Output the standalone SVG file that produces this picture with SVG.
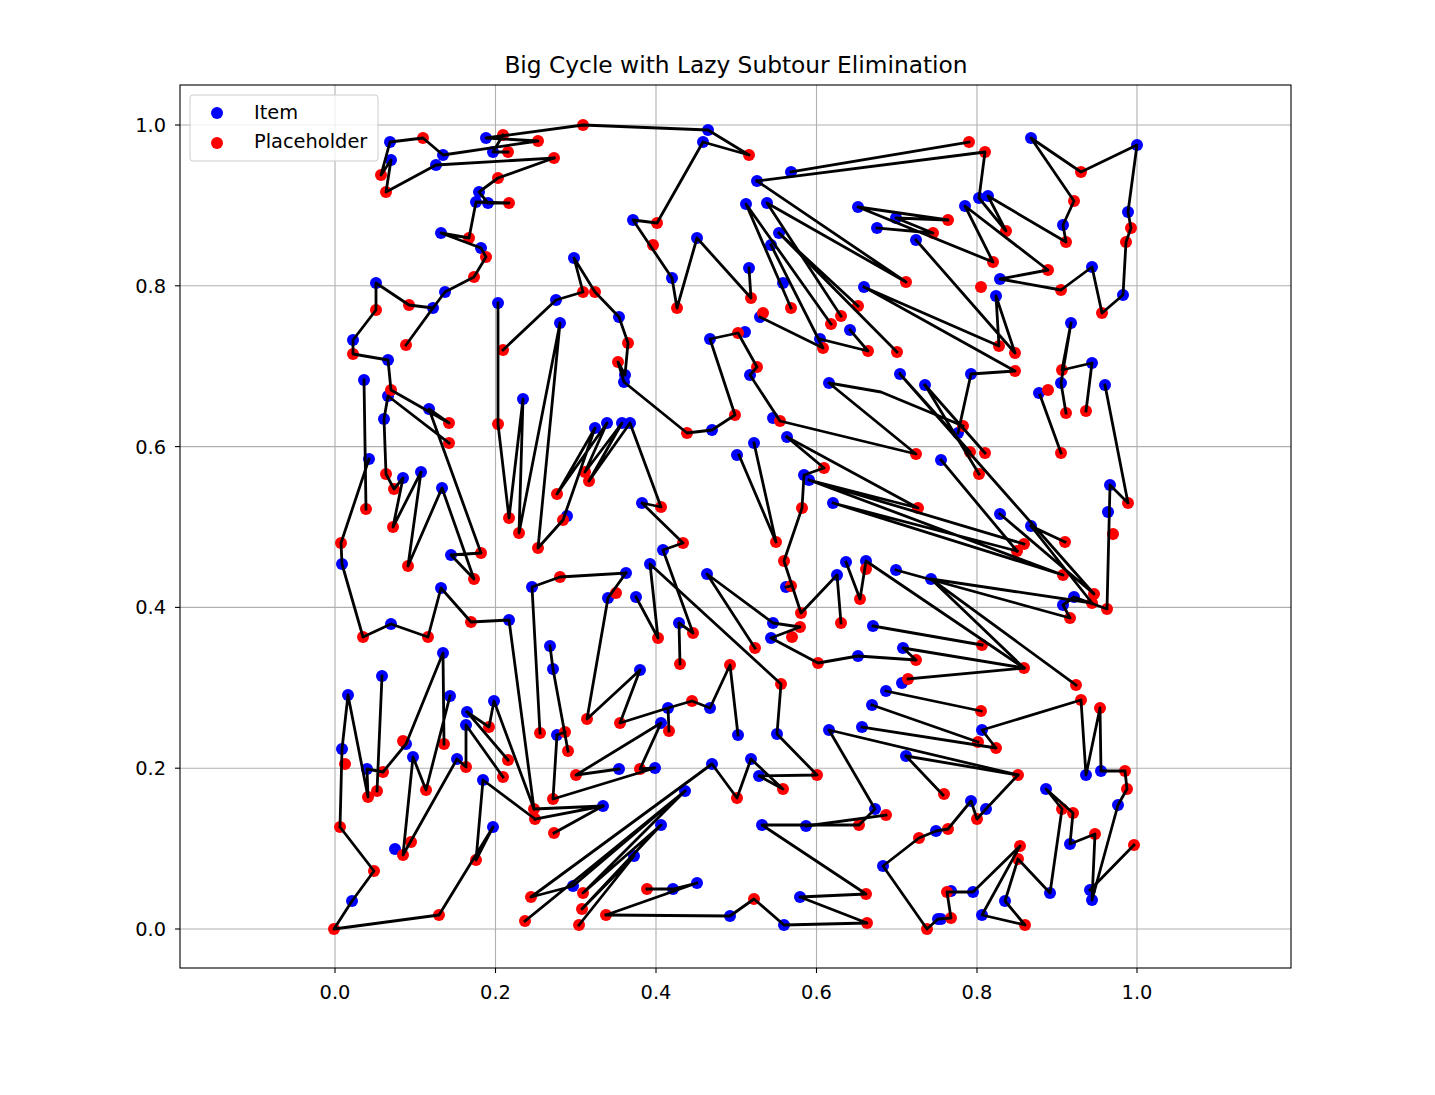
<svg xmlns="http://www.w3.org/2000/svg" width="1435" height="1095" viewBox="0 0 1435 1095">
<style>
text{font-family:"DejaVu Sans","Liberation Sans",sans-serif;fill:#000}
.tk{font-size:19.4px}
.grid line{stroke:#b0b0b0;stroke-width:1.1}
.i{fill:#0000ff}
.p{fill:#ff0000}
.edges path{fill:none;stroke:#000;stroke-width:2.8;stroke-linejoin:round;stroke-linecap:square}
</style>
<rect width="1435" height="1095" fill="#fff"/>
<text x="736" y="73" font-size="23.3" text-anchor="middle">Big Cycle with Lazy Subtour Elimination</text>
<g class="grid">
<line x1="335" y1="85" x2="335" y2="968"/><line x1="495.5" y1="85" x2="495.5" y2="968"/><line x1="656" y1="85" x2="656" y2="968"/><line x1="816.5" y1="85" x2="816.5" y2="968"/><line x1="977" y1="85" x2="977" y2="968"/><line x1="1137" y1="85" x2="1137" y2="968"/>
<line x1="180" y1="929" x2="1291" y2="929"/><line x1="180" y1="768.2" x2="1291" y2="768.2"/><line x1="180" y1="607.4" x2="1291" y2="607.4"/><line x1="180" y1="446.6" x2="1291" y2="446.6"/><line x1="180" y1="285.8" x2="1291" y2="285.8"/><line x1="180" y1="125" x2="1291" y2="125"/>
</g>
<g id="points-item">
<circle class="i" r="6" cx="390" cy="142"/><circle class="i" r="6" cx="443" cy="155"/><circle class="i" r="6" cx="436" cy="165"/><circle class="i" r="6" cx="391" cy="160"/><circle class="i" r="6" cx="486" cy="138"/><circle class="i" r="6" cx="493" cy="152"/><circle class="i" r="6" cx="479" cy="192"/><circle class="i" r="6" cx="476" cy="202"/><circle class="i" r="6" cx="488" cy="203"/><circle class="i" r="6" cx="441" cy="233"/><circle class="i" r="6" cx="481" cy="248"/><circle class="i" r="6" cx="445" cy="292"/><circle class="i" r="6" cx="376" cy="283"/><circle class="i" r="6" cx="433" cy="308"/><circle class="i" r="6" cx="353" cy="340"/><circle class="i" r="6" cx="388" cy="360"/><circle class="i" r="6" cx="364" cy="380"/><circle class="i" r="6" cx="498" cy="303"/><circle class="i" r="6" cx="708" cy="130"/><circle class="i" r="6" cx="703" cy="142"/><circle class="i" r="6" cx="633" cy="220"/><circle class="i" r="6" cx="697" cy="238"/><circle class="i" r="6" cx="672" cy="278"/><circle class="i" r="6" cx="574" cy="258"/><circle class="i" r="6" cx="556" cy="300"/><circle class="i" r="6" cx="560" cy="323"/><circle class="i" r="6" cx="619" cy="317"/><circle class="i" r="6" cx="625" cy="375"/><circle class="i" r="6" cx="624" cy="382"/><circle class="i" r="6" cx="710" cy="339"/><circle class="i" r="6" cx="745" cy="332"/>
<circle class="i" r="6" cx="388" cy="396"/><circle class="i" r="6" cx="429" cy="409"/><circle class="i" r="6" cx="384" cy="419"/><circle class="i" r="6" cx="369" cy="459"/><circle class="i" r="6" cx="403" cy="478"/><circle class="i" r="6" cx="421" cy="472"/><circle class="i" r="6" cx="442" cy="488"/><circle class="i" r="6" cx="342" cy="564"/><circle class="i" r="6" cx="451" cy="555"/><circle class="i" r="6" cx="441" cy="588"/><circle class="i" r="6" cx="509" cy="620"/><circle class="i" r="6" cx="391" cy="624"/><circle class="i" r="6" cx="443" cy="653"/><circle class="i" r="6" cx="523" cy="399"/><circle class="i" r="6" cx="532" cy="587"/>
<circle class="i" r="6" cx="712" cy="430"/><circle class="i" r="6" cx="737" cy="455"/><circle class="i" r="6" cx="595" cy="428"/><circle class="i" r="6" cx="607" cy="423"/><circle class="i" r="6" cx="622" cy="423"/><circle class="i" r="6" cx="630" cy="423"/><circle class="i" r="6" cx="567" cy="516"/><circle class="i" r="6" cx="642" cy="503"/><circle class="i" r="6" cx="663" cy="550"/><circle class="i" r="6" cx="650" cy="564"/><circle class="i" r="6" cx="707" cy="574"/><circle class="i" r="6" cx="626" cy="573"/><circle class="i" r="6" cx="608" cy="598"/><circle class="i" r="6" cx="636" cy="597"/><circle class="i" r="6" cx="679" cy="623"/><circle class="i" r="6" cx="550" cy="646"/>
<circle class="i" r="6" cx="791" cy="172"/><circle class="i" r="6" cx="757" cy="181"/><circle class="i" r="6" cx="746" cy="204"/><circle class="i" r="6" cx="767" cy="203"/><circle class="i" r="6" cx="779" cy="233"/><circle class="i" r="6" cx="771" cy="245"/><circle class="i" r="6" cx="749" cy="268"/><circle class="i" r="6" cx="783" cy="283"/><circle class="i" r="6" cx="760" cy="317"/><circle class="i" r="6" cx="750" cy="375"/><circle class="i" r="6" cx="820" cy="339"/><circle class="i" r="6" cx="850" cy="330"/><circle class="i" r="6" cx="864" cy="287"/><circle class="i" r="6" cx="858" cy="207"/><circle class="i" r="6" cx="896" cy="218"/><circle class="i" r="6" cx="877" cy="228"/><circle class="i" r="6" cx="916" cy="240"/><circle class="i" r="6" cx="829" cy="383"/><circle class="i" r="6" cx="900" cy="374"/><circle class="i" r="6" cx="925" cy="385"/>
<circle class="i" r="6" cx="1031" cy="138"/><circle class="i" r="6" cx="1137" cy="145"/><circle class="i" r="6" cx="1063" cy="225"/><circle class="i" r="6" cx="979" cy="198"/><circle class="i" r="6" cx="988" cy="196"/><circle class="i" r="6" cx="965" cy="206"/><circle class="i" r="6" cx="1000" cy="279"/><circle class="i" r="6" cx="1092" cy="267"/><circle class="i" r="6" cx="1123" cy="295"/><circle class="i" r="6" cx="1128" cy="212"/><circle class="i" r="6" cx="996" cy="296"/><circle class="i" r="6" cx="971" cy="374"/><circle class="i" r="6" cx="1071" cy="323"/><circle class="i" r="6" cx="1092" cy="363"/><circle class="i" r="6" cx="1061" cy="383"/><circle class="i" r="6" cx="1105" cy="385"/><circle class="i" r="6" cx="1039" cy="393"/>
<circle class="i" r="6" cx="773" cy="418"/><circle class="i" r="6" cx="787" cy="437"/><circle class="i" r="6" cx="754" cy="443"/><circle class="i" r="6" cx="941" cy="460"/><circle class="i" r="6" cx="804" cy="475"/><circle class="i" r="6" cx="809" cy="480"/><circle class="i" r="6" cx="833" cy="503"/><circle class="i" r="6" cx="846" cy="562"/><circle class="i" r="6" cx="866" cy="561"/><circle class="i" r="6" cx="837" cy="575"/><circle class="i" r="6" cx="896" cy="570"/><circle class="i" r="6" cx="931" cy="579"/><circle class="i" r="6" cx="786" cy="587"/><circle class="i" r="6" cx="773" cy="623"/><circle class="i" r="6" cx="771" cy="638"/><circle class="i" r="6" cx="873" cy="626"/><circle class="i" r="6" cx="903" cy="648"/><circle class="i" r="6" cx="858" cy="656"/>
<circle class="i" r="6" cx="958" cy="433"/><circle class="i" r="6" cx="1110" cy="485"/><circle class="i" r="6" cx="1108" cy="512"/><circle class="i" r="6" cx="1000" cy="514"/><circle class="i" r="6" cx="1031" cy="526"/><circle class="i" r="6" cx="1074" cy="597"/><circle class="i" r="6" cx="1063" cy="605"/>
<circle class="i" r="6" cx="982" cy="730"/><circle class="i" r="6" cx="1086" cy="775"/><circle class="i" r="6" cx="1101" cy="771"/><circle class="i" r="6" cx="1118" cy="805"/><circle class="i" r="6" cx="971" cy="801"/><circle class="i" r="6" cx="986" cy="809"/><circle class="i" r="6" cx="1046" cy="789"/><circle class="i" r="6" cx="1070" cy="844"/><circle class="i" r="6" cx="1050" cy="893"/><circle class="i" r="6" cx="1090" cy="890"/><circle class="i" r="6" cx="1092" cy="900"/><circle class="i" r="6" cx="951" cy="891"/><circle class="i" r="6" cx="973" cy="892"/><circle class="i" r="6" cx="1005" cy="901"/><circle class="i" r="6" cx="982" cy="915"/><circle class="i" r="6" cx="941" cy="919"/>
<circle class="i" r="6" cx="738" cy="735"/><circle class="i" r="6" cx="777" cy="734"/><circle class="i" r="6" cx="751" cy="759"/><circle class="i" r="6" cx="759" cy="776"/><circle class="i" r="6" cx="829" cy="730"/><circle class="i" r="6" cx="862" cy="727"/><circle class="i" r="6" cx="886" cy="691"/><circle class="i" r="6" cx="902" cy="683"/><circle class="i" r="6" cx="872" cy="705"/><circle class="i" r="6" cx="906" cy="756"/><circle class="i" r="6" cx="875" cy="809"/><circle class="i" r="6" cx="762" cy="825"/><circle class="i" r="6" cx="806" cy="826"/><circle class="i" r="6" cx="936" cy="831"/><circle class="i" r="6" cx="883" cy="866"/><circle class="i" r="6" cx="800" cy="897"/><circle class="i" r="6" cx="784" cy="925"/><circle class="i" r="6" cx="938" cy="919"/>
<circle class="i" r="6" cx="553" cy="669"/><circle class="i" r="6" cx="640" cy="670"/><circle class="i" r="6" cx="668" cy="708"/><circle class="i" r="6" cx="710" cy="708"/><circle class="i" r="6" cx="661" cy="723"/><circle class="i" r="6" cx="557" cy="735"/><circle class="i" r="6" cx="619" cy="769"/><circle class="i" r="6" cx="655" cy="768"/><circle class="i" r="6" cx="712" cy="764"/><circle class="i" r="6" cx="603" cy="806"/><circle class="i" r="6" cx="685" cy="791"/><circle class="i" r="6" cx="661" cy="825"/><circle class="i" r="6" cx="634" cy="856"/><circle class="i" r="6" cx="573" cy="886"/><circle class="i" r="6" cx="673" cy="889"/><circle class="i" r="6" cx="697" cy="883"/><circle class="i" r="6" cx="730" cy="916"/>
<circle class="i" r="6" cx="382" cy="676"/><circle class="i" r="6" cx="348" cy="695"/><circle class="i" r="6" cx="342" cy="749"/><circle class="i" r="6" cx="367" cy="769"/><circle class="i" r="6" cx="406" cy="744"/><circle class="i" r="6" cx="450" cy="696"/><circle class="i" r="6" cx="413" cy="757"/><circle class="i" r="6" cx="457" cy="759"/><circle class="i" r="6" cx="467" cy="712"/><circle class="i" r="6" cx="466" cy="725"/><circle class="i" r="6" cx="494" cy="701"/><circle class="i" r="6" cx="483" cy="780"/><circle class="i" r="6" cx="493" cy="827"/><circle class="i" r="6" cx="395" cy="849"/><circle class="i" r="6" cx="352" cy="901"/>
</g>
<g id="points-placeholder">
<circle class="p" r="6" cx="423" cy="138"/><circle class="p" r="6" cx="381" cy="175"/><circle class="p" r="6" cx="386" cy="192"/><circle class="p" r="6" cx="503" cy="135"/><circle class="p" r="6" cx="508" cy="152"/><circle class="p" r="6" cx="538" cy="141"/><circle class="p" r="6" cx="554" cy="158"/><circle class="p" r="6" cx="583" cy="125"/><circle class="p" r="6" cx="498" cy="178"/><circle class="p" r="6" cx="509" cy="203"/><circle class="p" r="6" cx="469" cy="238"/><circle class="p" r="6" cx="486" cy="257"/><circle class="p" r="6" cx="474" cy="277"/><circle class="p" r="6" cx="409" cy="305"/><circle class="p" r="6" cx="406" cy="345"/><circle class="p" r="6" cx="376" cy="310"/><circle class="p" r="6" cx="353" cy="354"/><circle class="p" r="6" cx="391" cy="390"/><circle class="p" r="6" cx="503" cy="350"/><circle class="p" r="6" cx="749" cy="155"/><circle class="p" r="6" cx="657" cy="223"/><circle class="p" r="6" cx="653" cy="245"/><circle class="p" r="6" cx="677" cy="308"/><circle class="p" r="6" cx="583" cy="292"/><circle class="p" r="6" cx="595" cy="292"/><circle class="p" r="6" cx="628" cy="343"/><circle class="p" r="6" cx="618" cy="362"/><circle class="p" r="6" cx="738" cy="333"/>
<circle class="p" r="6" cx="449" cy="423"/><circle class="p" r="6" cx="449" cy="443"/><circle class="p" r="6" cx="386" cy="474"/><circle class="p" r="6" cx="394" cy="489"/><circle class="p" r="6" cx="366" cy="509"/><circle class="p" r="6" cx="393" cy="527"/><circle class="p" r="6" cx="341" cy="543"/><circle class="p" r="6" cx="408" cy="566"/><circle class="p" r="6" cx="481" cy="553"/><circle class="p" r="6" cx="474" cy="579"/><circle class="p" r="6" cx="471" cy="622"/><circle class="p" r="6" cx="363" cy="637"/><circle class="p" r="6" cx="428" cy="637"/><circle class="p" r="6" cx="498" cy="424"/><circle class="p" r="6" cx="509" cy="518"/><circle class="p" r="6" cx="519" cy="533"/>
<circle class="p" r="6" cx="687" cy="433"/><circle class="p" r="6" cx="735" cy="415"/><circle class="p" r="6" cx="557" cy="494"/><circle class="p" r="6" cx="585" cy="472"/><circle class="p" r="6" cx="589" cy="481"/><circle class="p" r="6" cx="563" cy="520"/><circle class="p" r="6" cx="538" cy="548"/><circle class="p" r="6" cx="661" cy="507"/><circle class="p" r="6" cx="683" cy="543"/><circle class="p" r="6" cx="560" cy="577"/><circle class="p" r="6" cx="616" cy="593"/><circle class="p" r="6" cx="693" cy="633"/><circle class="p" r="6" cx="658" cy="638"/><circle class="p" r="6" cx="680" cy="664"/><circle class="p" r="6" cx="730" cy="665"/>
<circle class="p" r="6" cx="751" cy="298"/><circle class="p" r="6" cx="791" cy="308"/><circle class="p" r="6" cx="763" cy="313"/><circle class="p" r="6" cx="757" cy="367"/><circle class="p" r="6" cx="831" cy="324"/><circle class="p" r="6" cx="841" cy="316"/><circle class="p" r="6" cx="858" cy="306"/><circle class="p" r="6" cx="823" cy="348"/><circle class="p" r="6" cx="868" cy="351"/><circle class="p" r="6" cx="897" cy="352"/><circle class="p" r="6" cx="906" cy="282"/><circle class="p" r="6" cx="933" cy="233"/><circle class="p" r="6" cx="948" cy="220"/>
<circle class="p" r="6" cx="969" cy="142"/><circle class="p" r="6" cx="985" cy="152"/><circle class="p" r="6" cx="1081" cy="172"/><circle class="p" r="6" cx="1074" cy="201"/><circle class="p" r="6" cx="1066" cy="242"/><circle class="p" r="6" cx="1006" cy="231"/><circle class="p" r="6" cx="993" cy="262"/><circle class="p" r="6" cx="981" cy="287"/><circle class="p" r="6" cx="1048" cy="270"/><circle class="p" r="6" cx="1061" cy="290"/><circle class="p" r="6" cx="1102" cy="313"/><circle class="p" r="6" cx="1131" cy="228"/><circle class="p" r="6" cx="1126" cy="242"/><circle class="p" r="6" cx="999" cy="346"/><circle class="p" r="6" cx="1015" cy="353"/><circle class="p" r="6" cx="1015" cy="371"/><circle class="p" r="6" cx="1062" cy="370"/><circle class="p" r="6" cx="1048" cy="390"/>
<circle class="p" r="6" cx="1066" cy="413"/><circle class="p" r="6" cx="1086" cy="411"/><circle class="p" r="6" cx="1061" cy="453"/><circle class="p" r="6" cx="963" cy="426"/><circle class="p" r="6" cx="970" cy="452"/><circle class="p" r="6" cx="985" cy="453"/><circle class="p" r="6" cx="979" cy="474"/><circle class="p" r="6" cx="1128" cy="503"/><circle class="p" r="6" cx="1113" cy="534"/><circle class="p" r="6" cx="1065" cy="542"/><circle class="p" r="6" cx="1024" cy="544"/><circle class="p" r="6" cx="1017" cy="551"/><circle class="p" r="6" cx="1063" cy="575"/><circle class="p" r="6" cx="1094" cy="594"/><circle class="p" r="6" cx="1092" cy="603"/><circle class="p" r="6" cx="1107" cy="609"/><circle class="p" r="6" cx="1070" cy="618"/><circle class="p" r="6" cx="982" cy="645"/><circle class="p" r="6" cx="1024" cy="668"/>
<circle class="p" r="6" cx="780" cy="421"/><circle class="p" r="6" cx="916" cy="454"/><circle class="p" r="6" cx="824" cy="468"/><circle class="p" r="6" cx="918" cy="508"/><circle class="p" r="6" cx="802" cy="508"/><circle class="p" r="6" cx="776" cy="542"/><circle class="p" r="6" cx="784" cy="561"/><circle class="p" r="6" cx="866" cy="569"/><circle class="p" r="6" cx="860" cy="599"/><circle class="p" r="6" cx="841" cy="623"/><circle class="p" r="6" cx="791" cy="586"/><circle class="p" r="6" cx="801" cy="613"/><circle class="p" r="6" cx="800" cy="627"/><circle class="p" r="6" cx="792" cy="637"/><circle class="p" r="6" cx="755" cy="648"/><circle class="p" r="6" cx="916" cy="660"/><circle class="p" r="6" cx="818" cy="663"/>
<circle class="p" r="6" cx="1076" cy="685"/><circle class="p" r="6" cx="1081" cy="700"/><circle class="p" r="6" cx="1100" cy="708"/><circle class="p" r="6" cx="981" cy="711"/><circle class="p" r="6" cx="978" cy="742"/><circle class="p" r="6" cx="996" cy="748"/><circle class="p" r="6" cx="1018" cy="775"/><circle class="p" r="6" cx="1125" cy="771"/><circle class="p" r="6" cx="1127" cy="789"/><circle class="p" r="6" cx="944" cy="794"/><circle class="p" r="6" cx="977" cy="819"/><circle class="p" r="6" cx="948" cy="829"/><circle class="p" r="6" cx="1062" cy="809"/><circle class="p" r="6" cx="1073" cy="813"/><circle class="p" r="6" cx="1095" cy="834"/><circle class="p" r="6" cx="1134" cy="845"/><circle class="p" r="6" cx="1020" cy="846"/><circle class="p" r="6" cx="1018" cy="859"/><circle class="p" r="6" cx="947" cy="892"/><circle class="p" r="6" cx="1025" cy="925"/><circle class="p" r="6" cx="951" cy="918"/>
<circle class="p" r="6" cx="781" cy="684"/><circle class="p" r="6" cx="817" cy="775"/><circle class="p" r="6" cx="783" cy="789"/><circle class="p" r="6" cx="737" cy="798"/><circle class="p" r="6" cx="886" cy="815"/><circle class="p" r="6" cx="859" cy="825"/><circle class="p" r="6" cx="919" cy="838"/><circle class="p" r="6" cx="866" cy="894"/><circle class="p" r="6" cx="754" cy="899"/><circle class="p" r="6" cx="867" cy="923"/><circle class="p" r="6" cx="927" cy="929"/><circle class="p" r="6" cx="908" cy="679"/>
<circle class="p" r="6" cx="587" cy="719"/><circle class="p" r="6" cx="620" cy="723"/><circle class="p" r="6" cx="692" cy="701"/><circle class="p" r="6" cx="669" cy="731"/><circle class="p" r="6" cx="540" cy="733"/><circle class="p" r="6" cx="565" cy="732"/><circle class="p" r="6" cx="568" cy="751"/><circle class="p" r="6" cx="576" cy="775"/><circle class="p" r="6" cx="640" cy="769"/><circle class="p" r="6" cx="553" cy="799"/><circle class="p" r="6" cx="534" cy="809"/><circle class="p" r="6" cx="535" cy="819"/><circle class="p" r="6" cx="554" cy="833"/><circle class="p" r="6" cx="583" cy="893"/><circle class="p" r="6" cx="582" cy="909"/><circle class="p" r="6" cx="579" cy="925"/><circle class="p" r="6" cx="606" cy="915"/><circle class="p" r="6" cx="531" cy="897"/><circle class="p" r="6" cx="525" cy="921"/><circle class="p" r="6" cx="647" cy="889"/>
<circle class="p" r="6" cx="345" cy="764"/><circle class="p" r="6" cx="368" cy="797"/><circle class="p" r="6" cx="377" cy="791"/><circle class="p" r="6" cx="383" cy="772"/><circle class="p" r="6" cx="403" cy="741"/><circle class="p" r="6" cx="444" cy="744"/><circle class="p" r="6" cx="426" cy="790"/><circle class="p" r="6" cx="466" cy="767"/><circle class="p" r="6" cx="489" cy="727"/><circle class="p" r="6" cx="508" cy="760"/><circle class="p" r="6" cx="503" cy="777"/><circle class="p" r="6" cx="340" cy="827"/><circle class="p" r="6" cx="403" cy="855"/><circle class="p" r="6" cx="411" cy="842"/><circle class="p" r="6" cx="476" cy="860"/><circle class="p" r="6" cx="374" cy="871"/><circle class="p" r="6" cx="439" cy="915"/><circle class="p" r="6" cx="334" cy="929"/>
</g>
<g id="connectors" class="edges">
<path d="M554,158 L436,165 386,192 391,160 381,175 390,142 423,138 443,155 538,141 486,138 583,125 708,130 749,155 703,142 657,223 633,220 672,278 677,308 697,238 751,298 749,268"/>
<path d="M503,135 L493,152 508,152"/>
<path d="M554,158 L498,178 479,192 488,203 509,203 476,202 469,238 441,233 481,248 486,257 474,277 445,292 433,308 409,305 376,283 376,310 353,340 353,354 388,360 391,390 449,423 429,409 481,553 451,555 474,579 442,488 408,566 421,472 393,527 403,478 394,489 386,474 384,419 388,396 449,443"/>
<path d="M433,308 L406,345 M364,380 L366,509"/>
<path d="M369,459 L341,543 342,564 363,637 391,624 428,637 441,588 471,622 509,620 534,809 603,806 535,819"/>
<path d="M498,303 L498,424 509,518 523,399 519,533 560,323 538,548 563,520 595,428 557,494 607,423 585,472 622,423 589,481 630,423 661,507 642,503 683,543 663,550 693,633 679,623 680,664"/>
<path d="M503,350 L556,300 583,292 574,258 595,292 619,317 628,343 625,375 618,362 624,382 687,433 712,430 735,415 710,339 738,333 757,367 750,375 780,421 916,454 829,383 881,392 963,426"/>
<path d="M791,172 L969,142"/>
<path d="M757,181 L985,152 979,198 1006,231 988,196 1066,242 1063,225 1074,201 1031,138 1081,172 1137,145 1128,212 1131,228 1126,242 1123,295 1102,313 1092,267 1061,290 1000,279 1048,270 965,206 993,262 858,207 948,220 896,218 933,233 877,228"/>
<path d="M757,181 L906,282 767,203 841,316"/>
<path d="M791,308 L746,204 831,324 M779,233 L858,306 M779,233 L897,352 M771,245 L823,348 760,317 M820,339 L868,351 850,330"/>
<path d="M864,287 L999,346 996,296 1015,353 916,240 M864,287 L1015,371 971,374 958,433"/>
<path d="M1071,323 L1062,370 1092,363 1086,411 M1071,323 L1061,383 1066,413 M1105,385 L1128,503 1110,485 1107,609 1074,597 1063,605 1070,618 896,570 M1040,395 L1061,453"/>
<path d="M787,437 L824,468 804,475 802,508 784,561 801,613 837,575 841,623 M754,443 L776,542 739,455 M786,587 L791,586"/>
<path d="M787,437 L918,508 809,480 1063,575 833,503 1017,551 M809,480 L1024,544"/>
<path d="M900,374 L970,452 M900,374 L1094,594 1000,514 M925,385 L985,453 M925,385 L979,474 M941,460 L1017,551 M1031,526 L1065,542 M1031,526 L1092,603 931,579 1024,668 M931,579 L1076,685"/>
<path d="M846,562 L860,599 866,561 1024,668 903,648 916,660 858,656 818,663 771,638 800,627 773,623 707,574 755,648"/>
<path d="M626,573 L560,577 532,587 540,733 M626,573 L608,598 587,719 640,670 620,723 668,708 692,701 710,708 730,665 738,735 M668,708 L669,731"/>
<path d="M636,597 L658,638 650,564 781,684 777,734 817,775 759,776 783,789 751,759 737,798 712,764 531,897 573,886 685,791 583,893 661,825 582,909 634,856 579,925 M525,921 L685,791"/>
<path d="M550,646 L553,669 568,751 M557,735 L553,799 655,768 640,769 661,723 576,775 619,769 M557,735 L565,732 M554,833 L603,806"/>
<path d="M606,915 L697,883 673,889 647,889 M606,915 L730,916 754,899 784,925 867,923 800,897 866,894 762,825 859,825 875,809 829,730 1018,775 986,809 977,819 971,801 948,829 936,831 919,838 883,866 927,929 938,919 951,918 947,892 973,892 1020,846 982,915 1025,925 1005,901 1018,859 1050,893 1062,809 1046,789 1073,813 1070,844 1095,834 1092,900 1118,805 1127,789 1125,771 1101,771 1100,708 1086,775 1081,700 982,730 996,748 862,727"/>
<path d="M886,815 L806,826 M906,756 L943,795 M906,756 L1018,775 M886,691 L981,711 M872,705 L978,742 M908,679 L1024,668 M982,645 L873,626 M1134,845 L1090,890"/>
<path d="M340,827 L342,749 348,695 368,797 367,769 383,772 406,744 443,653 444,744 M382,676 L377,791 M340,827 L374,871 352,901 334,929 439,915 493,827 476,860 483,780 535,819 M450,696 L426,790 413,757 403,855 457,759 466,767 466,725 503,777 M467,712 L508,760 M467,712 L489,727 494,701 534,809"/>
</g>
<rect x="180" y="85" width="1111" height="883" fill="none" stroke="#000" stroke-width="1.1"/>
<g stroke="#000" stroke-width="1.1">
<line x1="335" y1="968" x2="335" y2="973"/><line x1="495.5" y1="968" x2="495.5" y2="973"/><line x1="656" y1="968" x2="656" y2="973"/><line x1="816.5" y1="968" x2="816.5" y2="973"/><line x1="977" y1="968" x2="977" y2="973"/><line x1="1137" y1="968" x2="1137" y2="973"/>
<line x1="175" y1="929" x2="180" y2="929"/><line x1="175" y1="768.2" x2="180" y2="768.2"/><line x1="175" y1="607.4" x2="180" y2="607.4"/><line x1="175" y1="446.6" x2="180" y2="446.6"/><line x1="175" y1="285.8" x2="180" y2="285.8"/><line x1="175" y1="125" x2="180" y2="125"/>
</g>
<g class="tk" text-anchor="middle">
<text x="335" y="999">0.0</text><text x="495.5" y="999">0.2</text><text x="656" y="999">0.4</text><text x="816.5" y="999">0.6</text><text x="977" y="999">0.8</text><text x="1137" y="999">1.0</text>
</g>
<g class="tk" text-anchor="end">
<text x="166" y="936">0.0</text><text x="166" y="775">0.2</text><text x="166" y="614">0.4</text><text x="166" y="454">0.6</text><text x="166" y="293">0.8</text><text x="166" y="132">1.0</text>
</g>
<g id="legend">
<rect x="190" y="95" width="188" height="66" rx="3" fill="#fff" fill-opacity="0.8" stroke="#ccc" stroke-width="1"/>
<circle class="i" r="6" cx="217" cy="113"/>
<text class="tk" x="254" y="119">Item</text>
<circle class="p" r="6" cx="217" cy="143"/>
<text class="tk" x="254" y="148">Placeholder</text>
</g>
</svg>
